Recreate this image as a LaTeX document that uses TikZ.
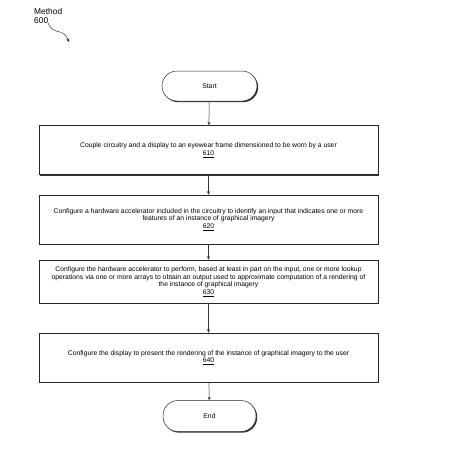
\documentclass[tikz,border=0pt]{standalone}
\usepackage{fontspec}
\setmainfont{Liberation Sans}
\usetikzlibrary{shadows,arrows.meta}
\begin{document}
\begin{tikzpicture}[x=1pt,y=-1pt,
  stepbox/.style={draw=black!85,line width=0.5pt,fill=white,minimum width=339pt,
    align=center,font=\fontsize{6.8}{7.8}\selectfont,inner sep=2pt,
    drop shadow={shadow xshift=1.2pt,shadow yshift=-1.2pt,fill=black!80,opacity=1}},
  termbox/.style={draw=black!85,line width=0.5pt,fill=white,rounded corners=15pt,
    font=\fontsize{6.8}{7.8}\selectfont,
    drop shadow={shadow xshift=1.2pt,shadow yshift=-1.2pt,fill=black!80,opacity=1}},
  conn/.style={draw=black!80,line width=0.5pt,-{Stealth[length=3.5pt,width=3pt]}}]
\useasboundingbox (0,0) rectangle (451,451);
\node[anchor=west,font=\fontsize{8.4}{9}\selectfont,align=left,inner sep=0pt] (lbl) at (34,16) {Method\\600};
\coordinate (ls) at (48,23);
\coordinate (le) at (69,42);
\draw[conn] (ls) .. controls (53,36) and (63,27) .. (le);
\node[termbox,minimum width=95pt,minimum height=30pt] (start) at (209.5,86) {Start};
\node[stepbox,minimum height=49pt] (s610) at (208.5,150) {Couple circuitry and a display to an eyewear frame dimensioned to be worn by a user\\\underline{610}};
\node[stepbox,minimum height=49pt] (s620) at (208.5,219.5) {Configure a hardware accelerator included in the circuitry to identify an input that indicates one or more\\features of an instance of graphical imagery\\\underline{620}};
\node[stepbox,minimum height=43pt] (s630) at (208.5,281.5) {Configure the hardware accelerator to perform, based at least in part on the input, one or more lookup\\operations via one or more arrays to obtain an output used to approximate computation of a rendering of\\the instance of graphical imagery\\\underline{630}};
\node[stepbox,minimum height=49pt] (s640) at (208.5,357.5) {Configure the display to present the rendering of the instance of graphical imagery to the user\\\underline{640}};
\node[termbox,minimum width=93pt,minimum height=31pt] (end) at (209.5,416) {End};
\draw[conn] (start) -- (s610);
\draw[conn] (s610) -- (s620);
\draw[conn] (s620) -- (s630);
\draw[conn] (s630) -- (s640);
\draw[conn] (s640) -- (end);
\end{tikzpicture}
\end{document}
